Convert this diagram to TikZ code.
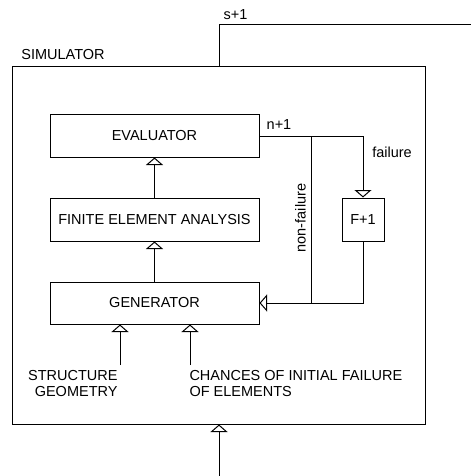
\documentclass[tikz,border=0pt]{standalone}
\usepackage{fontspec}
\setmainfont{Liberation Sans}
\usetikzlibrary{arrows.meta}
\begin{document}
\begin{tikzpicture}[x=1pt,y=-1pt,
  line width=1pt,
  every node/.style={font=\fontsize{14.5}{16}\selectfont},
  box/.style={draw, rectangle, inner sep=0pt},
  lbl/.style={inner sep=0pt},
  arr/.style={-{Triangle[width=17pt,length=7.5pt,fill=white,line width=1pt]}}]
\useasboundingbox (0,0) rectangle (471,476);
% simulator frame
\node[box, minimum width=413pt, minimum height=357pt] (sim) at (218.5,245.5) {};
\node[lbl] (simlbl) at (63,55) {SIMULATOR};
% main boxes
\node[box, minimum width=209pt, minimum height=42pt] (eval) at (154.5,136) {EVALUATOR};
\node[box, minimum width=209pt, minimum height=43pt] (fea) at (154.5,219.5) {FINITE ELEMENT ANALYSIS};
\node[box, minimum width=209pt, minimum height=42pt] (gen) at (154.5,303) {GENERATOR};
\node[box, minimum width=42pt, minimum height=43pt] (f1) at (363,219.5) {F+1};
% vertical chain
\draw[arr] (fea.north) -- (eval.south);
\draw[arr] (gen.north) -- (fea.south);
% feedback loop
\coordinate (j1) at (311,136);
\coordinate (j2) at (311,303);
\draw[arr] (eval.east) -| (f1.north);
\draw (j1) -- (j2);
\draw[arr] (f1.south) |- (gen.east);
\node[lbl] (nlbl) at (279,125) {n+1};
\node[lbl] (flbl) at (392,152) {failure};
\node[lbl, rotate=90] (nflbl) at (300.5,218) {non-failure};
% inputs
\coordinate (sg) at (120,365);
\coordinate (ch) at (190,365);
\draw[arr] (sg) -- (sg |- gen.south);
\draw[arr] (ch) -- (ch |- gen.south);
\node[lbl, align=right, anchor=east] (sgt) at (118,384) {STRUCTURE\\GEOMETRY};
\node[lbl, align=left, anchor=west] (cht) at (189,384) {CHANCES OF INITIAL FAILURE\\OF ELEMENTS};
% outer loop
\coordinate (s1) at (219,25);
\coordinate (s2) at (471,25);
\coordinate (bt) at (219,476);
\draw (sim.north -| s1) -- (s1) -- (s2);
\draw[arr] (bt) -- (bt |- sim.south);
\node[lbl] (slbl) at (235.5,15) {s+1};
\end{tikzpicture}
\end{document}
